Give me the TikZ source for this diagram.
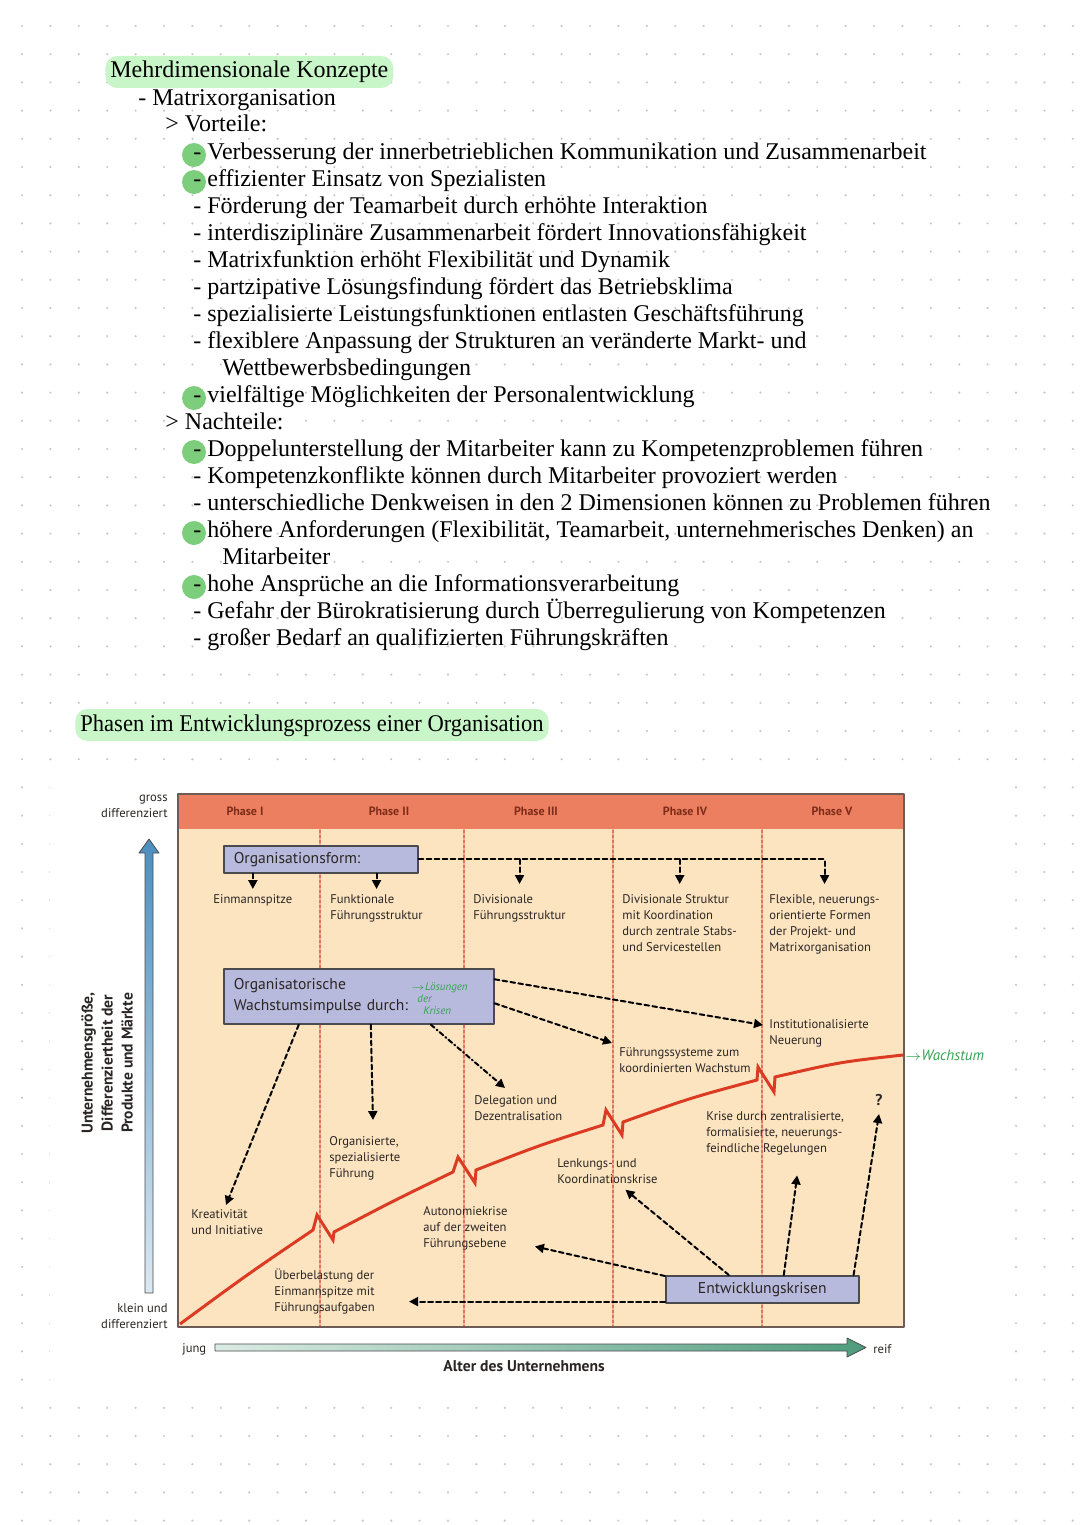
\documentclass[tikz,border=0pt]{standalone}
\usepackage{fontspec}
\setmainfont{Liberation Serif}
\newfontfamily\diafont{PT Sans}
\usetikzlibrary{arrows.meta,calc}
\definecolor{hlgreen}{HTML}{C9F6C9}
\definecolor{dotgreen}{HTML}{7CCD7C}
\definecolor{gridgray}{HTML}{C8C8C8}
\definecolor{phasebar}{HTML}{EC7F5F}
\definecolor{phasetxt}{HTML}{7E2C1A}
\definecolor{bodyfill}{HTML}{FCE4C1}
\definecolor{frame}{HTML}{6E5B55}
\definecolor{boxfill}{HTML}{B8BADD}
\definecolor{boxframe}{HTML}{4B4A4E}
\definecolor{curvered}{HTML}{DC3B23}
\definecolor{phaseline}{HTML}{E2735F}
\definecolor{diatxt}{HTML}{2B2624}
\definecolor{inkgreen}{HTML}{36A352}
\definecolor{axblue}{HTML}{4A8FBF}
\definecolor{axgreen}{HTML}{4E9C7C}

\begin{document}
\begin{tikzpicture}[x=0.5pt,y=-0.5pt,line cap=round,line join=round,>={Triangle[length=4.5pt,width=4.5pt]},
 txt/.style={anchor=base west,inner sep=0pt,font=\fontsize{12}{14}\selectfont},
 hl/.style={txt,fill=hlgreen,rounded corners=6pt,inner xsep=2.5pt,inner ysep=2pt,text height=9pt,text depth=3pt},
 lbl/.style={anchor=north west,inner sep=0pt,align=left,text=diatxt,font=\diafont\fontsize{6.3}{8}\selectfont},
 phase/.style={inner sep=0pt,text=phasetxt,font=\diafont\bfseries\fontsize{6}{8}\selectfont},
 ibox/.style={draw=boxframe,fill=boxfill,line width=0.8pt,inner xsep=5pt,inner ysep=0pt,anchor=north west,align=left,text=diatxt,font=\diafont\fontsize{7.8}{10.5}\selectfont},
 axl/.style={inner sep=0pt,text=diatxt,font=\diafont\fontsize{6.3}{8}\selectfont},
 axb/.style={inner sep=0pt,text=diatxt,align=center,font=\diafont\bfseries\fontsize{7.8}{10}\selectfont},
 hand/.style={inner sep=0pt,text=inkgreen,align=left,font=\diafont\itshape\fontsize{5.5}{6}\selectfont},
 darr/.style={->,line width=1pt,dash pattern=on 2.4pt off 1.6pt},
 ddarr/.style={->,line width=1pt,dash pattern=on 2.4pt off 1.4pt on 0.6pt off 1.4pt}]
\useasboundingbox (0,0) rectangle (1080,1525);
\fill[white] (0,0) rectangle (1080,1525);
% dot grid of the page
\foreach \i in {0,...,37}
 \foreach \j in {0,...,53}
  \fill[gridgray] (22+\i*28.4,26+\j*28.2) circle (0.6pt);
\fill[white] (50,765) rectangle (992,1395);

% notes
\node[hl] (konzepte) at (105,78) {Mehrdimensionale Konzepte};
\foreach \y in {155,182,398,452,533,587}
 \fill[dotgreen] (194,\y) circle (6pt);
\foreach \n/\x/\y/\t in {
 matrix/138/105/{- Matrixorganisation},
 vor/165/132/{> Vorteile:},
 v1/193/159/{- Verbesserung der innerbetrieblichen Kommunikation und Zusammenarbeit},
 v2/193/186/{- effizienter Einsatz von Spezialisten},
 v3/193/213/{- Förderung der Teamarbeit durch erhöhte Interaktion},
 v4/193/240/{- interdisziplinäre Zusammenarbeit fördert Innovationsfähigkeit},
 v5/193/267/{- Matrixfunktion erhöht Flexibilität und Dynamik},
 v6/193/294/{- partzipative Lösungsfindung fördert das Betriebsklima},
 v7/193/321/{- spezialisierte Leistungsfunktionen entlasten Geschäftsführung},
 v8/193/348/{- flexiblere Anpassung der Strukturen an veränderte Markt- und},
 v8b/222/375/{Wettbewerbsbedingungen},
 v9/193/402/{- vielfältige Möglichkeiten der Personalentwicklung},
 nach/165/429/{> Nachteile:},
 n1/193/456/{- Doppelunterstellung der Mitarbeiter kann zu Kompetenzproblemen führen},
 n2/193/483/{- Kompetenzkonflikte können durch Mitarbeiter provoziert werden},
 n3/193/510/{- unterschiedliche Denkweisen in den 2 Dimensionen können zu Problemen führen},
 n4/193/537/{- höhere Anforderungen (Flexibilität, Teamarbeit, unternehmerisches Denken) an},
 n4b/222/564/{Mitarbeiter},
 n5/193/591/{- hohe Ansprüche an die Informationsverarbeitung},
 n6/193/618/{- Gefahr der Bürokratisierung durch Überregulierung von Kompetenzen},
 n7/193/645/{- großer Bedarf an qualifizierten Führungskräften}}
 \node[txt] (\n) at (\x,\y) {\t};
\node[hl] (phasen) at (75,731) {\scalebox{0.94}[1]{Phasen im Entwicklungsprozess einer Organisation}};

% diagram
\fill[bodyfill] (178,794) rectangle (904,1327);
\fill[phasebar] (178,794) rectangle (904,829);
\foreach \x in {320,464,613,762}
 \draw[phaseline,line width=0.8pt,dash pattern=on 1.5pt off 1pt] (\x,830) -- (\x,1326);
\draw[frame,line width=0.8pt] (178,794) rectangle (904,1327);
\foreach \n/\x/\t in {p1/245/Phase I,p2/389/Phase II,p3/536/Phase III,p4/685/Phase IV,p5/832/Phase V}
 \node[phase] (\n) at (\x,811) {\t};

% growth curve
\draw[curvered,line width=1.5pt,line cap=butt,line join=miter]
 (180,1324) .. controls (248,1274) .. (313,1230) -- (317,1215) -- (333,1240) -- (334,1232)
 .. controls (395,1200) .. (453,1172) -- (458,1157) -- (475,1183) -- (476,1170)
 .. controls (540,1145) .. (603,1125) -- (606,1110) -- (622,1135) -- (623,1122)
 .. controls (690,1098) .. (757,1080) -- (758,1067) -- (774,1092) -- (775,1077)
 .. controls (840,1062) .. (903,1055);

% axes
\shade[draw=boxframe,line width=0.4pt,top color=axblue,bottom color=axblue!20]
 (145,1293) -- (145,853) -- (139,853) -- (149,839) -- (159,853) -- (153,853) -- (153,1293) -- cycle;
\shade[draw=boxframe,line width=0.4pt,left color=axgreen!20,right color=axgreen]
 (215,1344) -- (847,1344) -- (847,1338) -- (866,1347.5) -- (847,1357) -- (847,1351) -- (215,1351) -- cycle;
\node[axl,anchor=north east,align=right] (gross) at (168,795) {gross\\differenziert};
\node[axl,anchor=south east,align=right] (klein) at (168,1329) {klein und\\differenziert};
\node[axb,rotate=90] (ylab) at (107,1063) {Unternehmensgröße,\\Differenziertheit der\\Produkte und Märkte};
\node[axl,anchor=west] (jung) at (182,1349) {jung};
\node[axl,anchor=west] (reif) at (873,1349) {reif};
\node[axb] (xlab) at (524,1366) {Alter des Unternehmens};

% boxes
\node[ibox,text width=87pt,minimum height=13.5pt] (orgform) at (223,845) {Organisationsform:};
\node[ibox,text width=125pt,minimum height=27.5pt] (wachs) at (223,968) {Organisatorische\\Wachstumsimpulse durch:};
\node[ibox,align=center,minimum width=96.5pt,minimum height=13.5pt] (krisen) at (665,1275) {Entwicklungskrisen};
\node[hand,anchor=north west] (loesung) at (411,982) {$\rightarrow$Lösungen\\\hspace{3pt}der\\\hspace{6pt}Krisen};
\node[hand,anchor=west,font=\diafont\itshape\fontsize{7.5}{8}\selectfont] (wachstum) at (905,1055) {$\rightarrow$Wachstum};

% labels
\foreach \n/\x/\y/\t in {
 einmann/213/894/{Einmannspitze},
 funk/330/894/{Funktionale\\Führungsstruktur},
 divi/473/894/{Divisionale\\Führungsstruktur},
 divkoord/622/894/{Divisionale Struktur\\mit Koordination\\durch zentrale Stabs-\\und Servicestellen},
 flex/769/894/{Flexible, neuerungs-\\orientierte Formen\\der Projekt- und\\Matrixorganisation},
 inst/769/1019/{Institutionalisierte\\Neuerung},
 fsys/619/1047/{Führungssysteme zum\\koordinierten Wachstum},
 deleg/474/1095/{Delegation und\\Dezentralisation},
 orgspez/329/1136/{Organisierte,\\spezialisierte\\Führung},
 kreativ/191/1209/{Kreativität\\und Initiative},
 ueber/274/1268/{Überbelastung der\\Einmannspitze mit\\Führungsaufgaben},
 autonom/423/1206/{Autonomiekrise\\auf der zweiten\\Führungsebene},
 lenk/557/1158/{Lenkungs- und\\Koordinationskrise},
 zentral/706/1111/{Krise durch zentralisierte,\\formalisierte, neuerungs-\\feindliche Regelungen}}
 \node[lbl] (\n) at (\x,\y) {\t};
\node[axb,fill=none] (quest) at (879,1100) {?};

% connectors
\draw[darr,shorten >=5pt] (orgform.east) -| (flex.north);
\foreach \n in {divi,divkoord}
 \draw[darr,shorten >=5pt] (orgform.east -| \n.north) -- (\n.north);
\foreach \n in {einmann,funk}
 \draw[darr,shorten >=2.5pt] (orgform.south -| \n.north) -- (\n.north);
\draw[darr] ([yshift=8.5pt]wachs.east) -- ([xshift=-3pt,yshift=-3pt]inst.north west);
\draw[darr] ([yshift=-3.5pt]wachs.east) -- ([xshift=-3.5pt,yshift=2pt]fsys.north west);
\draw[ddarr] ([xshift=36pt]wachs.south) -- ([xshift=15.5pt,yshift=3.5pt]deleg.north west);
\draw[darr] ([xshift=6pt]wachs.south) -- ([xshift=22pt,yshift=8pt]orgspez.north west);
\draw[darr] ([xshift=-30pt]wachs.south) -- ([xshift=17.5pt,yshift=2pt]kreativ.north west);
\coordinate (kr1) at ($(krisen.south west)+(0,-2)$);
\draw[darr,shorten >=17pt] (kr1) -- (kr1 -| ueber.east);
\draw[darr] ([yshift=-0.5pt]krisen.north west) -- ([xshift=13.5pt,yshift=2pt]autonom.south east);
\draw[darr] ([xshift=-16.75pt]krisen.north) -- ([xshift=9pt,yshift=-3pt]lenk.south);
\draw[darr] ([xshift=10.75pt]krisen.north) -- ([xshift=11pt,yshift=-10pt]zentral.south);
\draw[darr] ([xshift=-3pt]krisen.north east) -- ([yshift=-4pt]quest.south);
\end{tikzpicture}
\end{document}
